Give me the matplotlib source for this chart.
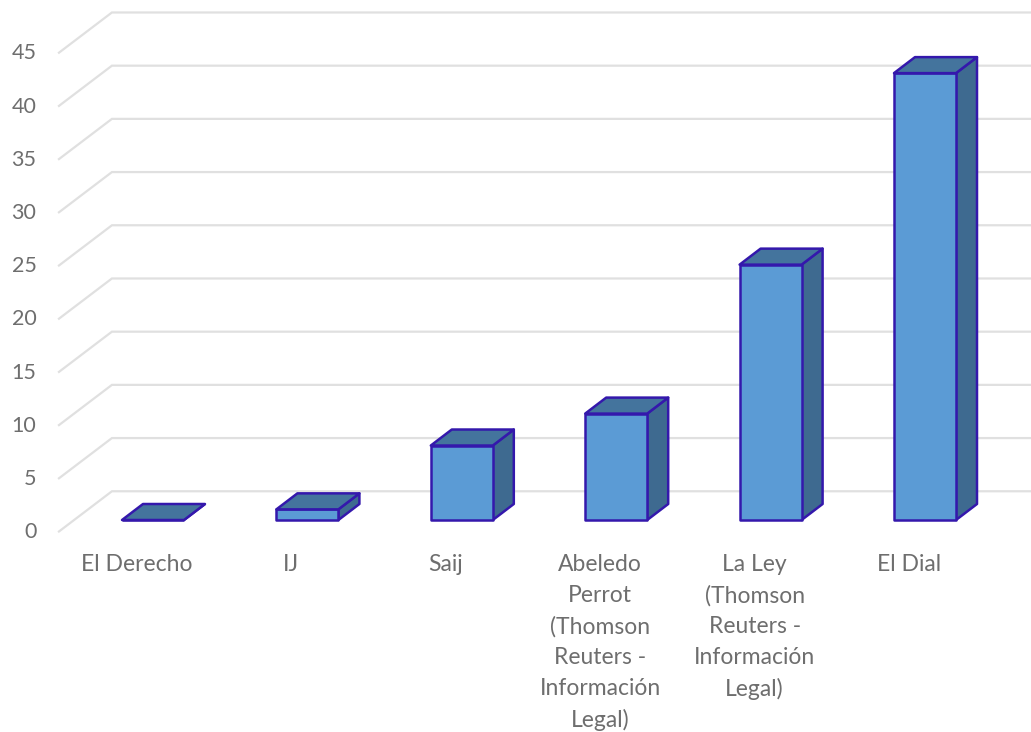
import matplotlib as mpl
import matplotlib.pyplot as plt
from matplotlib.patches import Polygon

categories = ['El Derecho', 'IJ', 'Saij',
              'Abeledo\nPerrot\n(Thomson\nReuters -\nInformación\nLegal)',
              'La Ley\n(Thomson\nReuters -\nInformación\nLegal)',
              'El Dial']
values = [0, 1, 7, 10, 24, 42]
yticks = [0, 5, 10, 15, 20, 25, 30, 35, 40, 45]

W, H = 1031, 732
px_x = 154.4      # pixels per category
px_y = 10.64      # pixels per unit
x0_px = 153
y0_px = 520

bar_w = 62 / px_x
dep_x = 21 / px_x
dep_y = 16 / px_y

FACE = '#5b9bd5'
TOP = '#44749d'
SIDE = '#3e6a90'
EDGE = '#3418ac'
GRID = '#e0e0e0'
TEXT = '#6e6e6e'

mpl.rcParams['font.family'] = ['Lato', 'DejaVu Sans']

fig = plt.figure(figsize=(W / 100, H / 100), dpi=100)
ax = fig.add_axes([0, 0, 1, 1])
ax.set_xlim(-x0_px / px_x, (W - x0_px) / px_x)
ax.set_ylim((y0_px - H) / px_y, y0_px / px_y)
ax.axis('off')

# floor and wall grid lines
for v in yticks:
    ax.plot([-0.609, -0.266, 6], [v - 1.08, v + 2.7, v + 2.7],
            color=GRID, lw=1.6, solid_joinstyle='miter', zorder=1)
    ax.text(-0.755, v - 1.15, str(v), ha='right', va='center',
            color=TEXT, fontsize=15.5)

for i, val in enumerate(values):
    l = i - bar_w / 2
    r = i + bar_w / 2
    front = [(l, 0), (r, 0), (r, val), (l, val)]
    top = [(l, val), (r, val), (r + dep_x, val + dep_y), (l + dep_x, val + dep_y)]
    side = [(r, 0), (r + dep_x, dep_y), (r + dep_x, val + dep_y), (r, val)]
    ax.add_patch(Polygon(side, fc=SIDE, ec=EDGE, lw=1.8, joinstyle='round', zorder=3))
    ax.add_patch(Polygon(front, fc=FACE, ec=EDGE, lw=1.8, joinstyle='round', zorder=3))
    ax.add_patch(Polygon(top, fc=TOP, ec=EDGE, lw=1.8, joinstyle='round', zorder=4))
    ax.text(i - 16 / px_x, -3.2, categories[i], ha='center', va='top',
            color=TEXT, fontsize=16.5, linespacing=1.57)

fig.savefig('out.png', dpi=100)
